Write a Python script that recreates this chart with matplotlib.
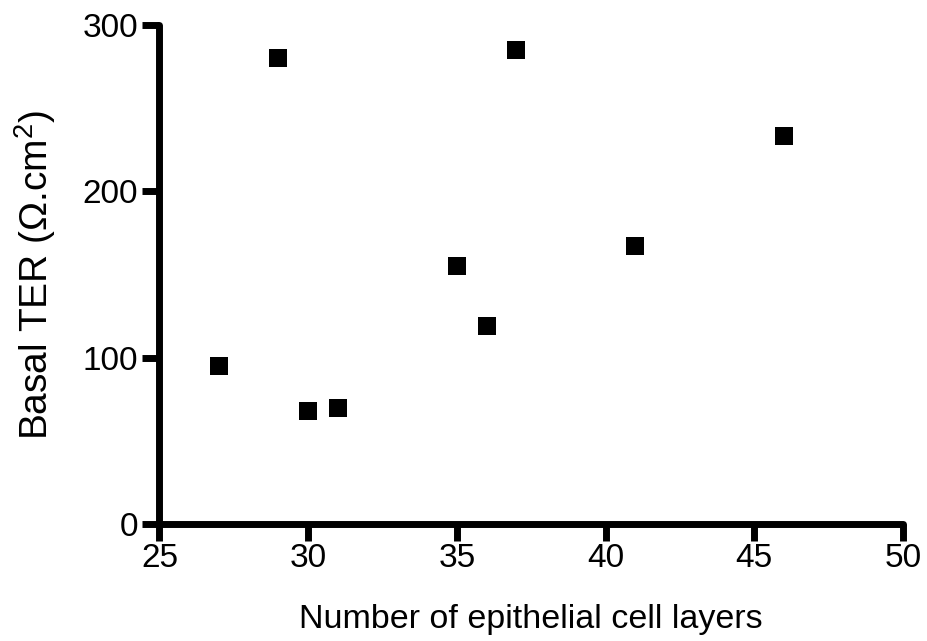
import matplotlib
matplotlib.use('Agg')
import matplotlib.pyplot as plt

# cell layers vs basal TER
layers = [27, 29, 30, 31, 35, 36, 37, 41, 46]
ter = [95, 280, 68, 70, 155, 119, 285, 167, 233]

x_ticks = [25, 30, 35, 40, 45, 50]
y_ticks = [0, 100, 200, 300]

plt.rcParams['font.family'] = ['Liberation Sans', 'DejaVu Sans']
plt.rcParams['mathtext.fontset'] = 'custom'
plt.rcParams['mathtext.rm'] = 'Liberation Sans'
plt.rcParams['mathtext.default'] = 'regular'

fig = plt.figure(figsize=(9.27, 6.41), dpi=100)
ax = fig.add_axes([0.172, 0.1825, 0.802, 0.7785])

ax.plot(layers, ter, linestyle='none', marker='s', markersize=13,
        color='black', markeredgewidth=0)

ax.set_xlim(25, 50)
ax.set_ylim(0, 300)
ax.set_xticks(x_ticks)
ax.set_yticks(y_ticks)

for side in ['top', 'right']:
    ax.spines[side].set_visible(False)
for side in ['left', 'bottom']:
    ax.spines[side].set_linewidth(5)
    ax.spines[side].set_capstyle('round')

ax.tick_params(axis='both', direction='out', length=12, width=5,
               labelsize=24, colors='black')
ax.tick_params(axis='x', pad=1.5)
ax.tick_params(axis='y', pad=3.5)

ax.set_xlabel('Number of epithelial cell layers', fontsize=24.5)
ax.set_ylabel('Basal TER (Ω.cm$^{2}$)', fontsize=28)
ax.xaxis.set_label_coords(0.5, -0.16)
ax.yaxis.set_label_coords(-0.137, 0.5)

fig.savefig('out.png', dpi=100)
